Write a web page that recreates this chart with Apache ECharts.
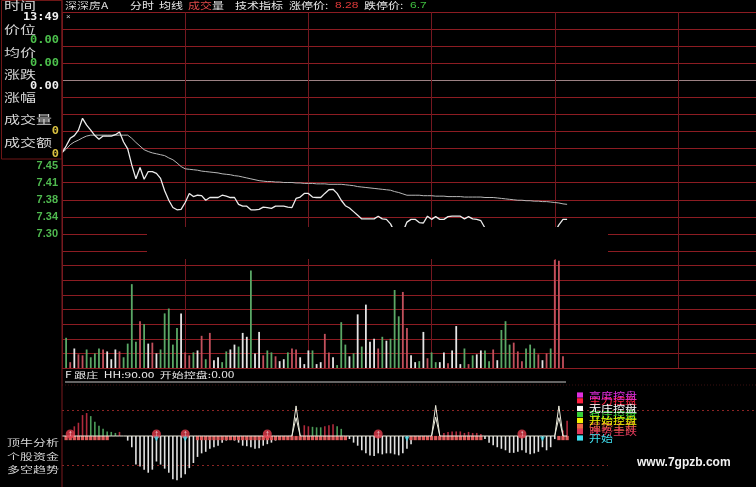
<!DOCTYPE html>
<html><head><meta charset="utf-8">
<script src="https://cdn.jsdelivr.net/npm/echarts@6/dist/echarts.min.js"></script>
<style>html,body{margin:0;padding:0;background:#000;overflow:hidden}#c{width:756px;height:487px}</style>
</head><body><div id="c"></div>
<script>
// ---------------- data ----------------
const priceTickLabels = ['7.30', '7.34', '7.38', '7.41', '7.45'];

// one point per bar slot (index 0 .. 123); null = not visible
const price = [
  7.478, 7.493, 7.510, 7.516, 7.528, 7.554, 7.539, 7.528, 7.516, 7.508,
  7.515, 7.515, 7.515, 7.518, 7.524, 7.502, 7.487, 7.451, 7.421, 7.446,
  7.420, 7.437, 7.437, 7.433, 7.422, 7.395, 7.374, 7.358, 7.353, 7.354,
  7.369, 7.389, 7.382, 7.385, 7.384, 7.374, 7.380, 7.380, 7.380, 7.385,
  7.383, 7.380, 7.380, 7.365, 7.361, 7.361, 7.353, 7.353, 7.354, 7.359,
  7.358, 7.356, 7.361, 7.361, 7.361, 7.359, 7.358, 7.378, 7.381, 7.389,
  7.389, 7.381, 7.380, 7.380, 7.389, 7.397, 7.398, 7.389, 7.374, 7.362,
  7.357, 7.349, 7.341, 7.333, 7.333, 7.333, 7.333, 7.339, 7.333, 7.332,
  7.322, 7.304, 7.300, 7.304, 7.326, 7.332, 7.332, 7.325, 7.324, 7.339,
  7.332, 7.338, 7.332, 7.332, 7.338, 7.339, 7.339, 7.339, 7.333, 7.338,
  7.333, 7.332, 7.329, 7.313, null, null, null, null, null, null,
  null, null, null, null, null, null, null, null, null, null,
  7.304, 7.320, 7.332, 7.332
];
const avgPrice = [
  7.478, 7.486, 7.496, 7.502, 7.506, 7.511, 7.515, 7.517, 7.517, 7.517,
  7.517, 7.517, 7.517, 7.517, 7.517, 7.517, 7.517, 7.510, 7.501, 7.493,
  7.485, 7.481, 7.478, 7.476, 7.474, 7.472, 7.467, 7.463, 7.456, 7.448,
  7.443, 7.442, 7.441, 7.440, 7.438, 7.437, 7.436, 7.435, 7.434, 7.432,
  7.431, 7.430, 7.428, 7.427, 7.425, 7.423, 7.421, 7.419, 7.417, 7.416,
  7.415, 7.415, 7.414, 7.414, 7.413, 7.413, 7.413, 7.412, 7.412, 7.411,
  7.411, 7.411, 7.410, 7.410, 7.410, 7.409, 7.409, 7.409, 7.409, 7.408,
  7.407, 7.406, 7.404, 7.403, 7.402, 7.401, 7.400, 7.399, 7.398, 7.397,
  7.396, 7.393, 7.391, 7.388, 7.385, 7.385, 7.385, 7.385, 7.384, 7.384,
  7.384, 7.383, 7.383, 7.383, 7.382, 7.382, 7.382, 7.382, 7.381, 7.381,
  7.381, 7.381, 7.381, 7.380, 7.380, 7.380, 7.379, 7.378, 7.377, 7.376,
  7.375, 7.374, 7.374, 7.373, 7.373, 7.372, 7.372, 7.371, 7.371, 7.370,
  7.369, 7.368, 7.366, 7.365
];

// volume bars, slots 1 .. 122
const volume = [
  310, 60, 200, 140, 130, 190, 110, 150, 200, 190,
  170, 90, 190, 170, 110, 250, 860, 270, 480, 450,
  250, 260, 150, 190, 560, 610, 240, 410, 560, 160,
  130, 160, 180, 330, 90, 360, 80, 110, 60, 170,
  190, 240, 220, 360, 320, 1000, 150, 370, 130, 180,
  160, 120, 70, 90, 160, 200, 190, 110, 40, 180,
  180, 40, 60, 350, 160, 110, 30, 470, 240, 120,
  150, 550, 220, 650, 270, 300, 200, 320, 280, 300,
  800, 530, 780, 410, 130, 60, 70, 370, 100, 160,
  60, 60, 160, 50, 180, 430, 40, 200, 40, 130,
  140, 180, 180, 70, 190, 80, 390, 480, 240, 260,
  170, 70, 200, 240, 200, 140, 80, 150, 200, 1110,
  1100, 120
];
// R = up (red), G = down (green), W = flat (white)
const volumeDir = ('GRWRRGGGGR' + 'WWWRGGGGRG' + 'WRWGGGGGWR' + 'RGWRGRWWGG' +
  'WWGWWGWWRG' + 'GRWWGRRWWW' + 'GWWRRWGGGW' + 'GWGWWWRGWG' + 'GGRRWWGWRG' +
  'GWWRWWWGRG' + 'WWGGRWGGGR' + 'RRGGGRWRGR' + 'RR').split('');

// lower indicator (多空趋势) bars, slots 0 .. 123
const indicator = [
  0, 0, 9, 19, 26, 41, 45, 39, 28, 20, 14, 9, 8, 6, 8, 0,
  -9, -22, -56, -60, -66, -72, -66, -50, -56, -64,
  -72, -85, -87, -82, -75, -63, -53, -41, -34, -31,
  -25, -22, -19, -13, -9, -8, -9, -13, -19, -20,
  -22, -25, -24, -19, -16, -13, -9, -8, -6, -4,
  0, 0, 0,
  21, 19, 18, 17, 17, 19, 21, 23, 19, 14,
  0,
  -6, -13, -19, -28, -34, -38, -39, -34, -36, -34,
  -34, -36, -38, -34, -25, -16, -8, -6, -5, -3,
  0, 0, 0,
  6, 8, 9, 9, 9, 6, 8, 6, 6, 4,
  -6, -13, -18, -22, -25, -28, -33, -33, -31, -28,
  -33, -36, -34, -31, -22, -28, -22, -6,
  0,
  11, 30
];
const indicatorGreenIdx = [7, 8, 9, 10, 11, 12, 13, 61, 62, 63, 67, 68];

// HH line (flat with spikes), slots 0 .. 123
const hhLine = [
  0, 0, 0, 0, 0, 0, 0, 0, 0, 0, 0, 0, 0, 0, 0, 0, 0, 0, 0, 0,
  0, 0, 0, 0, 0, 0, 0, 0, 0, 0, 0, 0, 0, 0, 0, 0, 0, 0, 0, 0,
  0, 0, 0, 0, 0, 0, 0, 0, 0, 0, 0, 0, 0, 0, 0, 0, 0, 59, 0, 0,
  0, 0, 0, 0, 0, 0, 0, 0, 0, 0, 0, 0, 0, 0, 0, 0, 0, 0, 0, 0,
  0, 0, 0, 0, 0, 0, 0, 0, 0, 0, 0, 60, 0, 0, 0, 0, 0, 0, 0, 0,
  0, 0, 0, 0, 0, 0, 0, 0, 0, 0, 0, 0, 0, 0, 0, 0, 0, 0, 0, 0,
  0, 59, 0, 0
];
const spikeIdx = [57, 91, 121];
const spikeInner = [36, 37, 36];

// thick band under the zero line (depth), slots 0 .. 123
const band = [
  null, -8, -8, -8, -8, -8, -8, -8, -8, -8, -8, -8,
  null, null, null, null, null, null, null, null, null, null, null, null, null, null, null, null, null, null, null, null, null,
  -8, -8, -8, -8, -8, -8, -8, -8, -8, -8, -8, -8, -8, -8, -8, -8, -8, -8, -8, -8,
  -8, -8, -8, -8, -8, -8, -8, -8, -8, -8, -8, -8, -8, -8, -8, -8, -8,
  null, null, null, null, null, null, null, null, null, null, null, null, null, null, null,
  -8, -8, -8, -8, -8, -8, -8, -8, -8, -8, -8, -8, -8, -8, -8, -8, -8, -8,
  null, null, null, null, null, null, null, null, null, null, null, null, null, null, null, null, null, null,
  -8, -8, -8
];
const topMarkIdx = [2, 23, 30, 50, 77, 112];
const cyanMarkIdx = [23, 30, 84, 117];

const legendNames = ['高度控盘', '主力控盘', '无庄控盘', '有庄控盘', '开始控盘', '强势主升', '跌势主跌', '开始'];
const legendColors = ['#e02ee0', '#ff2040', '#ffffff', '#38d038', '#f2f200', '#f06a48', '#e03a5a', '#40e0f0'];

// ---------------- drawing ----------------
const chart = echarts.init(document.getElementById('c'));
const CJK = '"Noto Sans CJK SC", sans-serif';
const SANS = '"Liberation Sans", Arial, sans-serif';
const MONO = '"DejaVu Sans Mono", monospace';
const GRID_RED = '#8c1c22';
const VGRID_RED = '#741820';
const PX_PER_UNIT = 106.6 / 200;

function T(x, y, text, color, size, o) {
  o = o || {};
  return {
    type: 'text', x: x, y: y, z: o.z || 60, scaleX: o.sx || 1, scaleY: o.sy || 1,
    style: {
      text: text, fill: color,
      font: (o.bold ? 'bold ' : '') + size + 'px ' + (o.fam || CJK),
      align: o.align || 'left', verticalAlign: 'middle',
      textAlign: o.align || 'left', textVerticalAlign: 'middle'
    }
  };
}

const colorMap = { R: '#c2505c', G: '#5aa866', W: '#e4e4e4' };

const gridLineColors = [];
for (let k = 0; k <= 14; k++) gridLineColors.push(k === 10 ? '#9c8284' : GRID_RED);

const spikeData = [];
spikeIdx.forEach((s, k) => {
  spikeData.push([s - 1, 0], [s, spikeInner[k]], [s + 1, 0], [s + 1, null]);
});

const xBase = {
  type: 'value', min: 0, max: 169, interval: 30,
  axisLine: { show: false }, axisTick: { show: false }, axisLabel: { show: false }
};

const graphics = [];
// left info panel
graphics.push({ type: 'rect', shape: { x: 1.5, y: 0.5, width: 60.5, height: 158.5 }, z: 55,
  style: { fill: '#000', stroke: '#6e1616', lineWidth: 1 } });
graphics.push({ type: 'line', shape: { x1: 62, y1: 0, x2: 62, y2: 487 }, z: 56,
  style: { stroke: '#7a1a1e', lineWidth: 1 } });
const panelRows = [
  ['时间', 6], ['价位', 30], ['均价', 52.5], ['涨跌', 75], ['涨幅', 97.5], ['成交量', 120], ['成交额', 143]
];
panelRows.forEach(r => graphics.push(T(4, r[1], r[0], '#d6d6d6', 16, { sy: 0.72 })));
graphics.push(T(59, 17.5, '13:49', '#f0f0f0', 12, { fam: MONO, bold: true, align: 'right', sy: 0.85 }));
graphics.push(T(59, 40.5, '0.00', '#4cc04c', 12, { fam: MONO, bold: true, align: 'right', sy: 0.85 }));
graphics.push(T(59, 63.3, '0.00', '#4cc04c', 12, { fam: MONO, bold: true, align: 'right', sy: 0.85 }));
graphics.push(T(59, 86, '0.00', '#f0f0f0', 12, { fam: MONO, bold: true, align: 'right', sy: 0.85 }));
graphics.push(T(59, 131, '0', '#d8c040', 12, { fam: MONO, bold: true, align: 'right', sy: 0.85 }));
graphics.push(T(59, 154, '0', '#d8c040', 12, { fam: MONO, bold: true, align: 'right', sy: 0.85 }));

// header
const hy = 5.5, hs = 0.8;
graphics.push(T(65, hy, '深深房A', '#d8d8d8', 12, { sy: hs }));
graphics.push(T(130, hy, '分时', '#e8e8e8', 12, { sy: hs }));
graphics.push(T(159, hy, '均线', '#e8e8e8', 12, { sy: hs }));
graphics.push(T(188, hy, '成交', '#e04848', 12, { sy: hs }));
graphics.push(T(212, hy, '量', '#e8e8e8', 12, { sy: hs }));
graphics.push(T(235, hy, '技术指标', '#e8e8e8', 12, { sy: hs }));
graphics.push(T(289, hy, '涨停价:', '#e8e8e8', 12, { sy: hs }));
graphics.push(T(335, hy, '8.28', '#e03a3a', 12, { fam: SANS, sy: hs }));
graphics.push(T(364, hy, '跌停价:', '#e8e8e8', 12, { sy: hs }));
graphics.push(T(410, hy, '6.7', '#40c040', 12, { fam: SANS, sy: hs }));
graphics.push(T(66, 17, '×', '#c8c8c8', 8, { fam: SANS }));

// black patch over part of the price/volume border
graphics.push({ type: 'rect', shape: { x: 147, y: 227, width: 461, height: 32 }, z: 40,
  style: { fill: '#000' } });

// indicator caption and underline
graphics.push(T(65, 375, 'F 跟庄  HH:90.00  开始控盘:0.00', '#e8e8e8', 12, { sy: 0.7 }));
graphics.push({ type: 'line', shape: { x1: 65, y1: 382, x2: 566, y2: 382 }, z: 50,
  style: { stroke: '#c8c8c8', lineWidth: 1 } });
graphics.push({ type: 'line', shape: { x1: 62, y1: 385, x2: 756, y2: 385 }, z: 1,
  style: { stroke: '#3a1010', lineWidth: 1, lineDash: [1, 2] } });
graphics.push({ type: 'line', shape: { x1: 62, y1: 465.5, x2: 608, y2: 465.5 }, z: 1,
  style: { stroke: '#8a2424', lineWidth: 1, lineDash: [2, 3] } });

// bottom-left labels
graphics.push(T(7, 443, '顶牛分析', '#d8d8d8', 13, { sy: 0.66 }));
graphics.push(T(7, 457, '个股资金', '#d8d8d8', 13, { sy: 0.66 }));
graphics.push(T(7, 470, '多空趋势', '#d8d8d8', 13, { sy: 0.66 }));

// legend block
const legY = [395, 400.8, 408.5, 414.5, 420.5, 426.3, 431.5, 438];
const legOrder = [1, 3, 5, 6, 0, 2, 4, 7];
legendColors.forEach((c, k) => {
  graphics.push({ type: 'rect', shape: { x: 577, y: legY[k] - 2.6, width: 6, height: 5.2 }, z: 70,
    style: { fill: c } });
});
legOrder.forEach((k, j) => {
  graphics.push(T(589, legY[k], legendNames[k], legendColors[k], 12, { sy: 0.78, z: 71 + j }));
});
graphics.push(T(637, 463, 'www.7gpzb.com', '#f2f2f2', 12, { fam: SANS, bold: true, z: 80 }));

const option = {
  backgroundColor: '#000',
  animation: false,
  grid: [
    { left: 62, right: 0, top: 12, height: 239 },
    { left: 62, right: 0, top: 251, height: 117 },
    { left: 62, right: 0, top: 385, height: 106.6 }
  ],
  xAxis: [
    Object.assign({ gridIndex: 0, splitLine: { show: true, lineStyle: { color: VGRID_RED, width: 1 } } }, xBase),
    Object.assign({ gridIndex: 1, splitLine: { show: true, lineStyle: { color: VGRID_RED, width: 1 } } }, xBase),
    Object.assign({ gridIndex: 2, splitLine: { show: false } }, xBase)
  ],
  yAxis: [
    { // grid lines + price labels
      gridIndex: 0, type: 'value', min: 0, max: 14, interval: 1,
      axisLine: { show: false }, axisTick: { show: false },
      axisLabel: {
        show: true, margin: 4, color: '#4fb84f', fontSize: 11, fontWeight: 'bold',
        fontFamily: '"Liberation Sans", Arial, sans-serif',
        formatter: v => (v >= 1 && v <= priceTickLabels.length) ? priceTickLabels[v - 1] : ''
      },
      splitLine: { show: true, lineStyle: { color: gridLineColors, width: 1 } }
    },
    { // price scale (same spacing as the grid lines)
      gridIndex: 0, type: 'value', min: 7.2625, max: 7.7875, show: false,
      splitLine: { show: false }
    },
    { // volume
      gridIndex: 1, type: 'value', min: 0, max: 1200, interval: 150,
      axisLine: { show: false }, axisTick: { show: false }, axisLabel: { show: false },
      splitLine: { show: true, lineStyle: { color: GRID_RED, width: 1 } }
    },
    { // indicator
      gridIndex: 2, type: 'value', min: -100, max: 100, interval: 50,
      axisLine: { show: false }, axisTick: { show: false }, axisLabel: { show: false },
      splitLine: { show: true, lineStyle: { color: ['rgba(0,0,0,0)', 'rgba(0,0,0,0)', 'rgba(0,0,0,0)', '#8a2424', 'rgba(0,0,0,0)'], type: [2, 3], width: 1 } }
    }
  ],
  series: [
    {
      name: '均价', type: 'line', xAxisIndex: 0, yAxisIndex: 1, symbol: 'none', z: 3,
      lineStyle: { color: '#b8b8b8', width: 1 },
      data: avgPrice.map((v, i) => [i, v])
    },
    {
      name: '价格', type: 'line', xAxisIndex: 0, yAxisIndex: 1, symbol: 'none', z: 4,
      connectNulls: false,
      lineStyle: { color: '#ececec', width: 1.3 },
      data: price.map((v, i) => [i, v])
    },
    {
      name: '成交量', type: 'bar', xAxisIndex: 1, yAxisIndex: 2, barWidth: 1.8, z: 3,
      data: volume.map((v, k) => ({ value: [k + 1, v], itemStyle: { color: colorMap[volumeDir[k]] } }))
    },
    {
      name: '多空趋势', type: 'bar', xAxisIndex: 2, yAxisIndex: 3, barWidth: 1.6, z: 3,
      data: indicator.map((v, i) => ({
        value: [i, v],
        itemStyle: { color: v < 0 ? '#e2e2e2' : (indicatorGreenIdx.indexOf(i) >= 0 ? '#4c9c5a' : '#b02a3c') }
      }))
    },
    {
      name: '控盘带', type: 'scatter', xAxisIndex: 2, yAxisIndex: 3, z: 5, symbol: 'rect',
      data: band.map((v, i) => v == null ? null : { value: [i, v / 2], symbolSize: [3.3, -v * PX_PER_UNIT] }).filter(d => d),
      itemStyle: { color: '#e05a5a', opacity: 1 }
    },
    {
      name: 'HH', type: 'line', xAxisIndex: 2, yAxisIndex: 3, symbol: 'none', z: 6,
      lineStyle: { color: '#ecebdc', width: 1 },
      data: hhLine.map((v, i) => [i, v])
    },
    {
      name: 'HH2', type: 'line', xAxisIndex: 2, yAxisIndex: 3, symbol: 'none', z: 6,
      connectNulls: false,
      lineStyle: { color: '#ecebdc', width: 1 },
      data: spikeData
    },
    {
      name: '顶', type: 'scatter', xAxisIndex: 2, yAxisIndex: 3, z: 8, symbol: 'circle', symbolSize: 9,
      itemStyle: { color: '#e23c4c' },
      label: { show: true, position: 'inside', formatter: '↑', color: '#fff', fontSize: 8, fontWeight: 'bold' },
      data: topMarkIdx.map(i => [i, 4])
    },
    {
      name: '开', type: 'scatter', xAxisIndex: 2, yAxisIndex: 3, z: 8, symbol: 'triangle', symbolRotate: 180, symbolSize: 5,
      itemStyle: { color: '#40d8e8' },
      data: cyanMarkIdx.map(i => [i, -6])
    }
  ],
  graphic: graphics
};
chart.setOption(option);
</script>
</body></html>
